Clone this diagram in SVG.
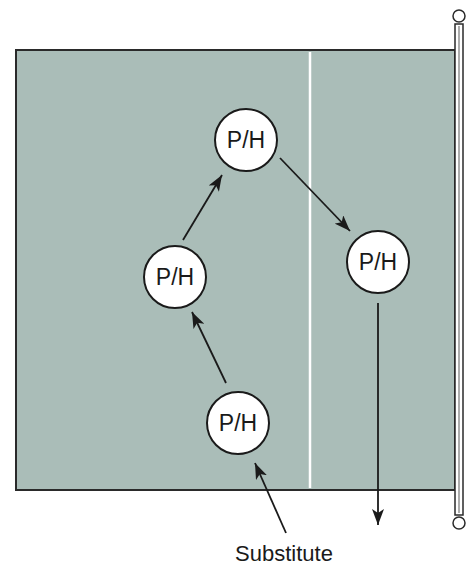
<svg xmlns="http://www.w3.org/2000/svg" width="471" height="565" viewBox="0 0 471 565">
<style>
.player circle{fill:#ffffff;stroke:#1a1a1a;stroke-width:2}
.player text{font-family:"Liberation Sans",Arial,sans-serif;font-size:23px;fill:#1a1a1a;text-anchor:middle}
.conn line{stroke:#1a1a1a;stroke-width:1.8;fill:none}
.label{font-family:"Liberation Sans",Arial,sans-serif;font-size:22px;fill:#1a1a1a;text-anchor:middle}
</style>
<defs>
<marker id="ah" markerWidth="18" markerHeight="12" refX="16" refY="6" orient="auto" markerUnits="userSpaceOnUse">
<path d="M0,0 L16,6 L0,12 L4,6 Z" fill="#1a1a1a"/>
</marker>
</defs>
<rect width="471" height="565" fill="#ffffff"/>
<g id="court">
<rect x="16" y="50" width="439" height="440" fill="#aabdb8" stroke="#2a2a2a" stroke-width="2"/>
<line x1="310" y1="52" x2="310" y2="488" stroke="#ffffff" stroke-width="2.5"/>
</g>
<g id="post">
<rect x="455" y="24" width="8" height="491" fill="#ffffff" stroke="#2a2a2a" stroke-width="1.5"/>
<line x1="459" y1="26" x2="459" y2="513" stroke="#777777" stroke-width="1.2"/>
<circle cx="459" cy="16" r="6" fill="#ffffff" stroke="#2a2a2a" stroke-width="1.5"/>
<circle cx="459" cy="523" r="6" fill="#ffffff" stroke="#2a2a2a" stroke-width="1.5"/>
</g>
<g id="connectors" class="conn">
<line x1="183" y1="240" x2="222" y2="175" marker-end="url(#ah)"/>
<line x1="280" y1="158" x2="350" y2="231" marker-end="url(#ah)"/>
<line x1="226" y1="383" x2="192" y2="312" marker-end="url(#ah)"/>
<line x1="378" y1="303" x2="378" y2="525" marker-end="url(#ah)"/>
<line x1="286" y1="533" x2="255" y2="463" marker-end="url(#ah)"/>
</g>
<g id="player-top" class="player"><circle cx="246" cy="140" r="31"/><text x="246" y="148">P/H</text></g>
<g id="player-left" class="player"><circle cx="175" cy="277" r="31"/><text x="175" y="285">P/H</text></g>
<g id="player-right" class="player"><circle cx="378" cy="262" r="31"/><text x="378" y="270">P/H</text></g>
<g id="player-bottom" class="player"><circle cx="238" cy="423" r="31"/><text x="238" y="431">P/H</text></g>
<text id="substitute" class="label" x="284" y="561">Substitute</text>
</svg>
